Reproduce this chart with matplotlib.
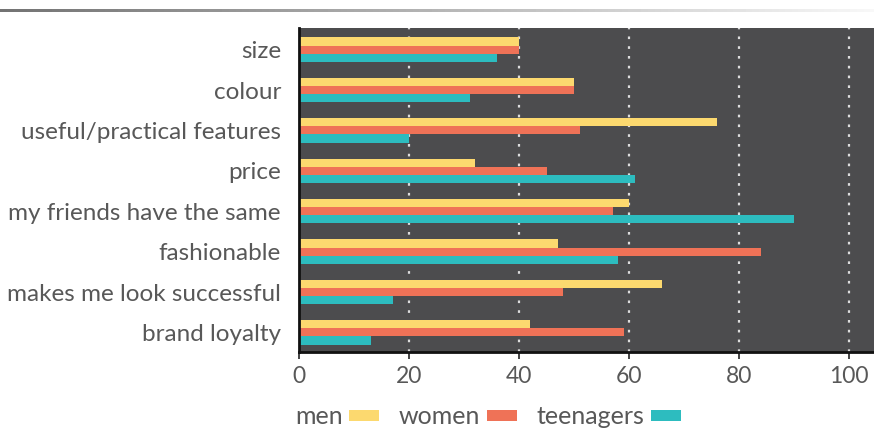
import numpy as np
import matplotlib.pyplot as plt

# data
categories = ['size', 'colour', 'useful/practical features', 'price',
              'my friends have the same', 'fashionable',
              'makes me look successful', 'brand loyalty']
men = [40, 50, 76, 32, 60, 47, 66, 42]
women = [40, 50, 51, 45, 57, 84, 48, 59]
teenagers = [36, 31, 20, 61, 90, 58, 17, 13]
x_ticks = [0, 20, 40, 60, 80, 100]

colors = {'men': '#fcd96f', 'women': '#ef7257', 'teenagers': '#2dbcbf'}
text_color = '#585858'

plt.rcParams['font.family'] = ['Lato', 'DejaVu Sans']

fig = plt.figure(figsize=(8.74, 4.30), dpi=100)

# gray fading line along the top
top = fig.add_axes([0, 1 - 12 / 430, 1, 3 / 430])
grad = np.linspace(0.45, 0.97, 256).reshape(1, -1)
top.imshow(grad, aspect='auto', cmap='gray', vmin=0, vmax=1)
top.axis('off')

ax = fig.add_axes([299 / 874, 1 - 352 / 430, 575 / 874, 324 / 430])
ax.set_facecolor('#4c4c4e')

pos = np.arange(len(categories))[::-1]
h = 0.2
ax.barh(pos + h, men, height=h, color=colors['men'], label='men')
ax.barh(pos, women, height=h, color=colors['women'], label='women')
ax.barh(pos - h, teenagers, height=h, color=colors['teenagers'], label='teenagers')

ax.set_xlim(0, 104.5)
ax.set_ylim(-0.485, 7.535)
ax.set_yticks(pos)
ax.set_yticklabels(categories, fontsize=17.5, color=text_color)
ax.tick_params(axis='y', length=0, pad=13)
ax.set_xticks(x_ticks)
ax.set_xticklabels([str(t) for t in x_ticks], fontsize=16.5, color=text_color)
ax.tick_params(axis='x', length=5, width=1.2, color='#222222', pad=5)

for t in x_ticks[1:]:
    ax.axvline(t, color='#dddddd', lw=1.6, ls=(0, (1.2, 3.2)), zorder=0.5)

for side in ['top', 'right']:
    ax.spines[side].set_visible(False)
for side in ['left', 'bottom']:
    ax.spines[side].set_color('#111111')
    ax.spines[side].set_linewidth(2)

leg = fig.legend(loc='center left', bbox_to_anchor=(295 / 874, 1 - 417 / 430),
                 ncol=3, frameon=False, markerfirst=False, fontsize=18,
                 handlelength=1.2, handleheight=0.28, handletextpad=0.25,
                 columnspacing=0.8, borderaxespad=0, borderpad=0)
for txt in leg.get_texts():
    txt.set_color(text_color)

fig.savefig('out.png', dpi=100)
